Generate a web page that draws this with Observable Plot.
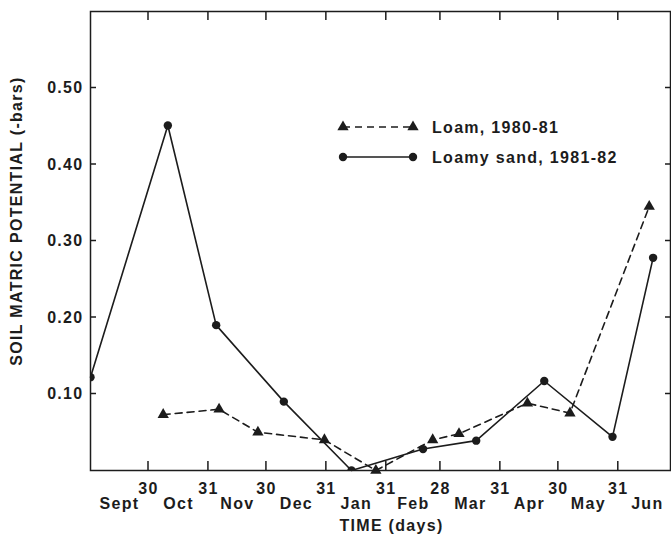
<!DOCTYPE html>
<html><head><meta charset="utf-8">
<script src="https://cdn.jsdelivr.net/npm/d3@7"></script>
<script src="https://cdn.jsdelivr.net/npm/@observablehq/plot@0.6"></script>
<style>
body{margin:0;background:#fff;}
#wrap{position:relative;width:671px;height:537px;}
#legend{position:absolute;left:0;top:0;pointer-events:none;}
</style></head><body><div id="wrap"></div>
<script>
// Days counted from the start of September (day 0 = 31 Aug / 1 Sept)
const monthEndDays = [30, 61, 91, 122, 153, 181, 212, 242, 273];
const monthEndLabels = ["30", "31", "30", "31", "31", "28", "31", "30", "31"];
const monthNames = ["Sept", "Oct", "Nov", "Dec", "Jan", "Feb", "Mar", "Apr", "May", "Jun"];
const monthBounds = [0, 30, 61, 91, 122, 153, 181, 212, 242, 273, 303];
const yTicks = [0.1, 0.2, 0.3, 0.4, 0.5];

const seriesNames = ["Loam, 1980-81", "Loamy sand, 1981-82"];
const loamDay   = [37.6, 66.5, 86.6, 121, 147.6, 177, 190.6, 226, 248, 289];
const loamValue = [0.073, 0.080, 0.050, 0.040, 0.000, 0.040, 0.048, 0.088, 0.075, 0.345];
const sandDay   = [0, 40, 65, 100, 135, 172, 199.5, 234.7, 270, 291];
const sandValue = [0.122, 0.451, 0.190, 0.090, 0.000, 0.028, 0.039, 0.117, 0.044, 0.278];

const loam = loamDay.map((d, i) => ({day: d, value: loamValue[i]}));
const sand = sandDay.map((d, i) => ({day: d, value: sandValue[i]}));
const monthMids = monthNames.map((m, i) => (monthBounds[i] + monthBounds[i + 1]) / 2);

const ink = "#1c1c1c";
const font = "'Liberation Sans', Arial, Helvetica, sans-serif";

const W = 671, H = 537, mL = 90, mR = 1, mT = 11, mB = 67;

const chart = Plot.plot({
  width: W, height: H,
  marginLeft: mL, marginRight: mR, marginTop: mT, marginBottom: mB,
  style: {fontFamily: font, fontSize: "16px", fontWeight: "bold", color: ink, background: "#fff", letterSpacing: "1.3px"},
  x: {domain: [0, 300], axis: null},
  y: {domain: [0, 0.6], axis: null},
  marks: [
    Plot.frame({stroke: ink, strokeWidth: 1.5}),
    Plot.axisY(yTicks, {anchor: "left", tickSize: 0, tickPadding: 7, tickFormat: d3.format(".2f"), label: null}),
    Plot.axisX(monthEndDays, {anchor: "bottom", tickSize: 0, tickPadding: 12, tickFormat: d => monthEndLabels[monthEndDays.indexOf(d)], label: null}),
    Plot.axisX(monthMids, {anchor: "bottom", tickSize: 0, tickPadding: 27, tickFormat: d => monthNames[monthMids.indexOf(d)], label: null}),
    Plot.text(["SOIL MATRIC POTENTIAL (-bars)"], {frameAnchor: "left", rotate: -90, dx: -74, dy: -20, textAnchor: "middle", fontSize: 16}),
    Plot.text(["TIME (days)"], {frameAnchor: "bottom", dx: 11, dy: 60, textAnchor: "middle", fontSize: 16}),
    Plot.line(loam, {x: "day", y: "value", stroke: ink, strokeWidth: 1.6, strokeDasharray: "7,5"}),
    Plot.line(sand, {x: "day", y: "value", stroke: ink, strokeWidth: 1.6}),
    Plot.dot(loam, {x: "day", y: "value", symbol: "triangle", r: 4.2, fill: ink, stroke: "none"}),
    Plot.dot(sand, {x: "day", y: "value", symbol: "circle", r: 4.2, fill: ink, stroke: "none", clip: true})
  ]
});
document.getElementById("wrap").appendChild(chart);

// Overlay: inward tick marks (positioned with the chart's own scales) and the legend
const sx = chart.scale("x"), sy = chart.scale("y");
const over = d3.select("#wrap").append("svg").attr("id", "legend").attr("width", W).attr("height", H)
  .style("font-family", font).style("font-size", "16px").style("font-weight", "bold").style("letter-spacing", "1.3px");
const tk = over.append("g").attr("stroke", ink).attr("stroke-width", 1.5);
yTicks.forEach(v => {
  const y = sy.apply(v);
  tk.append("line").attr("x1", mL).attr("x2", mL + 6).attr("y1", y).attr("y2", y);
  tk.append("line").attr("x1", W - mR - 5).attr("x2", W - mR).attr("y1", y).attr("y2", y);
});
monthEndDays.forEach(v => {
  const x = sx.apply(v);
  tk.append("line").attr("x1", x).attr("x2", x).attr("y1", H - mB - 9).attr("y2", H - mB);
  tk.append("line").attr("x1", x).attr("x2", x).attr("y1", mT).attr("y2", mT + 9);
});

const rows = [
  {name: seriesNames[0], y: 127, symbol: d3.symbolTriangle, dash: "7,5"},
  {name: seriesNames[1], y: 157, symbol: d3.symbolCircle, dash: null}
];
rows.forEach(r => {
  over.append("line").attr("x1", 343).attr("x2", 413).attr("y1", r.y).attr("y2", r.y)
    .attr("stroke", ink).attr("stroke-width", 1.6).attr("stroke-dasharray", r.dash);
  [343, 413].forEach(x => over.append("path").attr("d", d3.symbol(r.symbol, Math.PI * 4.2 * 4.2)())
    .attr("transform", `translate(${x},${r.y})`).attr("fill", ink));
  over.append("text").attr("x", 432).attr("y", r.y).attr("dy", "0.35em").attr("fill", ink).text(r.name);
});
</script></body></html>
